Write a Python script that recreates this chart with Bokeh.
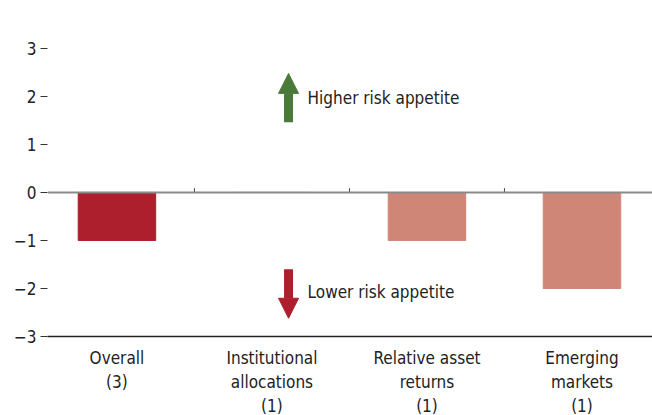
from bokeh.plotting import figure
from bokeh.models import (ColumnDataSource, Range1d, FixedTicker, Span, Arrow,
                          NormalHead, Label)
from bokeh.embed import file_html
from bokeh.resources import INLINE

FONT = "DejaVu Sans Condensed, Liberation Sans, sans-serif"

categories = ["Overall\n(3)", "Institutional\nallocations\n(1)",
              "Relative asset\nreturns\n(1)", "Emerging\nmarkets\n(1)"]
values = [-1, 0, -1, -2]
bar_colors = ["#AE1F2E", "#CF8677", "#CF8677", "#CF8677"]
y_ticks = [-3, -2, -1, 0, 1, 2, 3]
y_tick_labels = ["\u22123", "\u22122", "\u22121", "0", "1", "2", "3"]
higher_text = "Higher risk appetite"
lower_text = "Lower risk appetite"

n = len(categories)
xs = [i + 0.5 for i in range(n)]

src = ColumnDataSource(dict(x=xs, top=[0] * n, bottom=values, color=bar_colors))

p = figure(frame_width=605, frame_height=326, output_backend="svg", toolbar_location=None,
           x_range=Range1d(0.052, 3.955), y_range=Range1d(-3, 3.79),
           min_border_left=47, min_border_right=0, min_border_top=10,
           min_border_bottom=10)
p.outline_line_color = None
p.grid.visible = False
p.background_fill_color = "white"

p.vbar(x="x", top="top", bottom="bottom", width=0.5, color="color", source=src)

# zero line
p.add_layout(Span(location=0, dimension="width", line_color="#8a8a8a", line_width=2))
# small separator ticks on zero line
sep = list(range(1, n))
p.segment(x0=sep, x1=sep, y0=[0] * len(sep), y1=[0.09] * len(sep),
          line_color="#444444", line_width=1)

# y axis
ya = p.yaxis[0]
ya.ticker = FixedTicker(ticks=y_ticks)
ya.major_label_overrides = {t: l for t, l in zip(y_ticks, y_tick_labels)}
ya.axis_line_color = None
ya.major_tick_in = 0
ya.major_tick_out = 7
ya.major_tick_line_color = "#333333"
ya.minor_tick_line_color = None
ya.major_label_standoff = 4
ya.major_label_text_font = FONT
ya.major_label_text_font_size = "17px"
ya.major_label_text_color = "#222222"

# x axis
xa = p.xaxis[0]
xa.ticker = FixedTicker(ticks=xs)
xa.major_label_overrides = {x: c for x, c in zip(xs, categories)}
xa.axis_line_color = "#222222"
xa.axis_line_width = 1.5
xa.major_tick_line_color = None
xa.minor_tick_line_color = None
xa.major_label_standoff = 5
xa.major_label_text_font = FONT
xa.major_label_text_font_size = "17px"
xa.major_label_text_color = "#222222"
xa.major_label_text_line_height = 1.2

# arrows
p.add_layout(Arrow(end=NormalHead(size=20, fill_color="#4A7A3A", line_color="#4A7A3A"),
                   x_start=1.607, y_start=1.46, x_end=1.607, y_end=2.48,
                   line_color="#4A7A3A", line_width=9))
p.add_layout(Arrow(end=NormalHead(size=20, fill_color="#AE1F2E", line_color="#AE1F2E"),
                   x_start=1.607, y_start=-1.6, x_end=1.607, y_end=-2.62,
                   line_color="#AE1F2E", line_width=9))
p.add_layout(Label(x=1.73, y=1.96, text=higher_text, text_font=FONT,
                   text_font_size="17px", text_color="#222222", text_baseline="middle"))
p.add_layout(Label(x=1.73, y=-2.08, text=lower_text, text_font=FONT,
                   text_font_size="17px", text_color="#222222", text_baseline="middle"))

open("out.html", "w").write(file_html(p, INLINE))
